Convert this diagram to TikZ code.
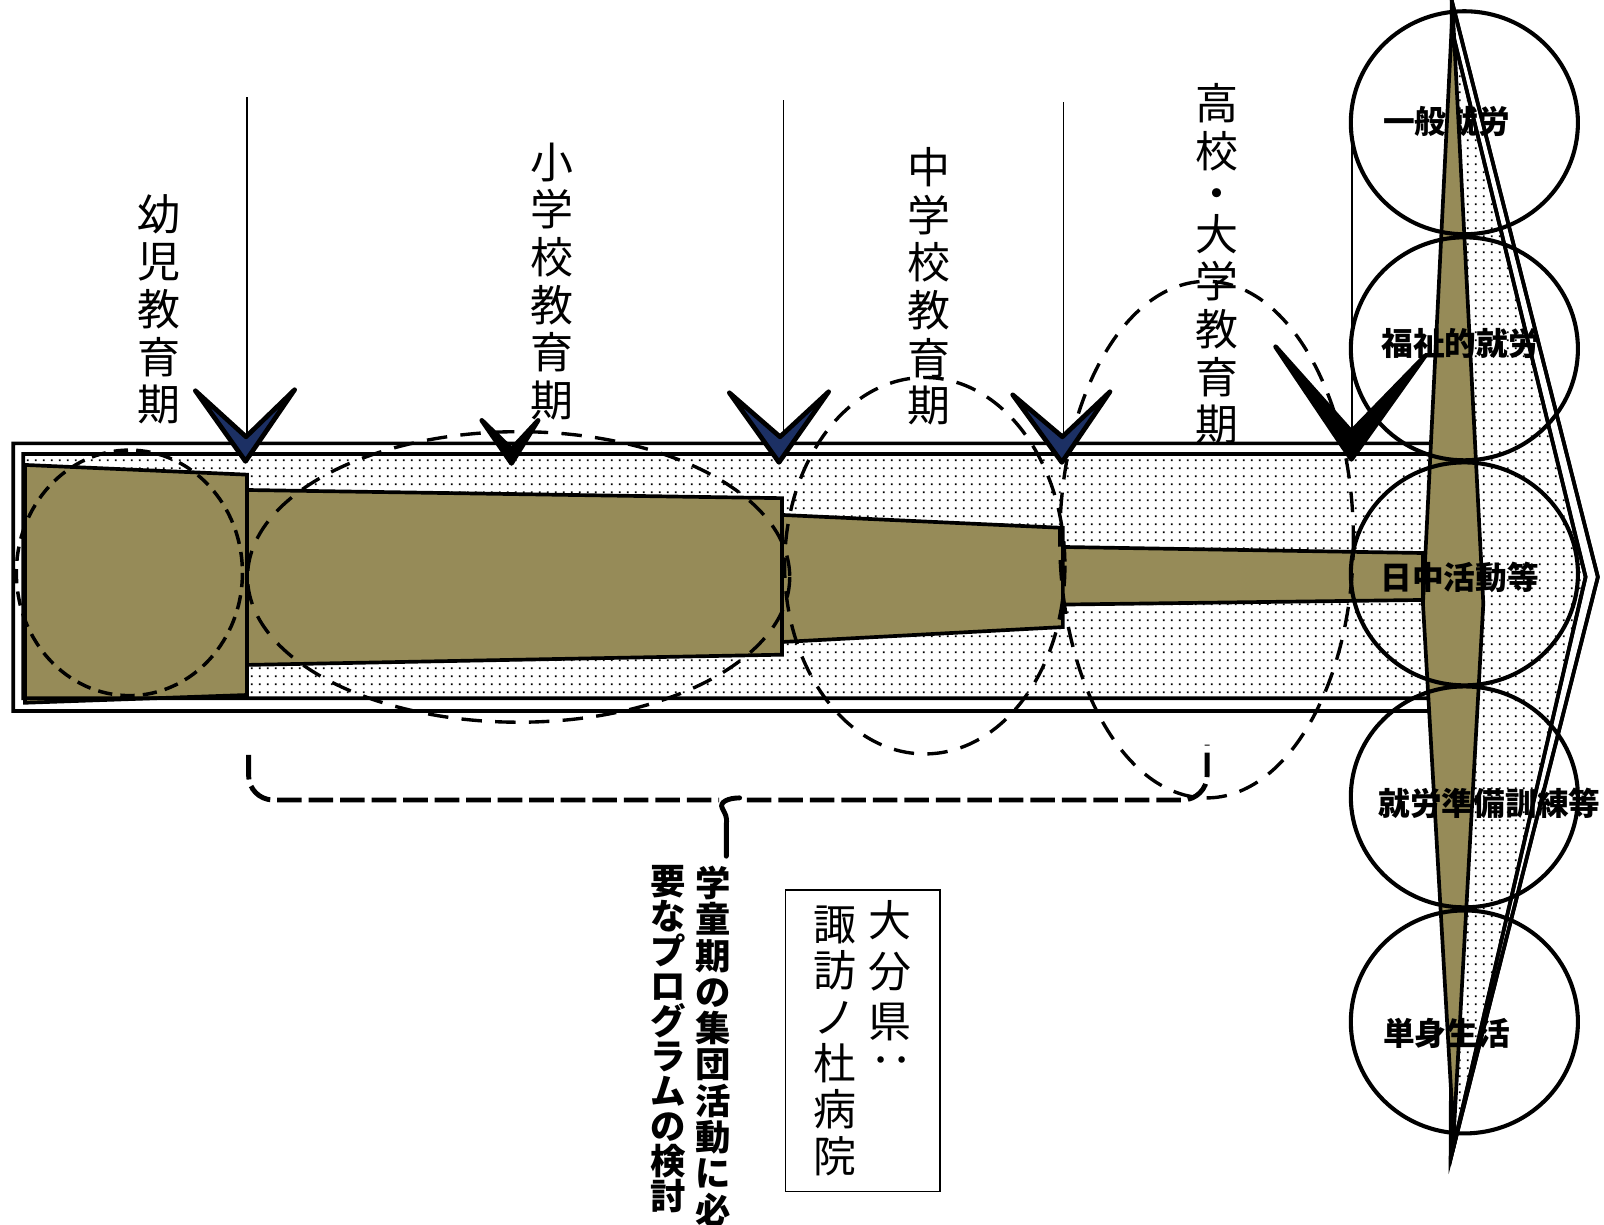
\documentclass[tikz,border=0pt]{standalone}
\usepackage{fontspec}
\newfontfamily\jp{Noto Sans CJK JP}
\usetikzlibrary{patterns}
\pgfdeclarepatternformonly{sdots}{\pgfqpoint{0pt}{0pt}}{\pgfqpoint{4pt}{4pt}}{\pgfqpoint{4pt}{4pt}}{%
  \pgfpathrectangle{\pgfqpoint{1.55pt}{1.55pt}}{\pgfqpoint{0.9pt}{0.9pt}}\pgfusepath{fill}}
\definecolor{segol}{RGB}{150,139,88}
\definecolor{navyv}{RGB}{28,48,100}
\begin{document}
\begin{tikzpicture}[x=0.5pt,y=-0.5pt,
  seg/.style={fill=segol, draw=black, line width=1.8pt, line join=miter},
  rim/.style={draw=black, line width=1.8pt, line join=miter},
  dashA/.style={draw=black, line width=1.7pt, dash pattern=on 7pt off 4pt},
  dashB/.style={draw=black, line width=1.65pt, dash pattern=on 10pt off 6.5pt},
  brk/.style={draw=black, line width=2.4pt, dash pattern=on 12pt off 3.4pt, rounded corners=12},
  vline/.style={draw=black, line width=0.75pt},
  chevn/.style={draw=black, fill=navyv, line width=2.3pt, line join=round, line cap=round},
  chevk/.style={draw=black, fill=black, line width=2.3pt, line join=round, line cap=round},
  ring/.style={draw=black, line width=2pt},
  vtext/.style={font=\jp\fontsize{21pt}{23.3pt}\selectfont, align=center, inner sep=0pt},
  btext/.style={font=\jp\fontsize{21pt}{24.5pt}\selectfont, align=center, inner sep=0pt},
  ctext/.style={font=\jp\bfseries\fontsize{15.5pt}{15.5pt}\selectfont, inner sep=0pt},
  gtext/.style={font=\jp\bfseries\fontsize{17.3pt}{17.75pt}\selectfont, align=center, inner sep=0pt},
]
\useasboundingbox (0,0) rectangle (1568,1197);

% dotted interior of the big arrow
\fill[pattern=sdots] (22.8,443.8) -- (1420,443.8) -- (1420,32) -- (1550,564) -- (1420,1125) -- (1420,682.5) -- (22.8,682.5) -- cycle;

% olive segments
\draw[seg] (24.4,454.5) -- (241.5,464) -- (241.5,679.4) -- (24.4,687) -- cycle;
\draw[seg] (241.5,479) -- (764.5,487) -- (764.5,640) -- (241.5,650) -- cycle;
\draw[seg] (764.5,503.4) -- (1039,516) -- (1039,613) -- (764.5,627.6) -- cycle;
\draw[seg] (1039,534.7) -- (1391,540.6) -- (1391,586.5) -- (1039,591) -- cycle;

% label hidden partly by the spindle
\node[ctext] (c1) at (1414,119) {一般就労};

% arrow outlines (double)
\draw[rim] (22.8,443.8) -- (1420,443.8) -- (1420,32) -- (1550,564) -- (1420,1125) -- (1420,682.5) -- (22.8,682.5) -- cycle;
\draw[rim] (13,433.4) -- (1420,433.4) -- (1419,0) -- (1562,564) -- (1418,1133) -- (1420,695) -- (13,695) -- cycle;

% spindle
\draw[seg] (1420,8) -- (1450,590) -- (1421,1110) -- (1391,590) -- cycle;

% circles
\draw[ring] (1431.5,120) ellipse [x radius=111, y radius=109];
\draw[ring] (1431.5,341) ellipse [x radius=111, y radius=109];
\draw[ring] (1431.5,561) ellipse [x radius=111, y radius=109];
\draw[ring] (1431.5,779) ellipse [x radius=111, y radius=108];
\draw[ring] (1431.5,999) ellipse [x radius=111, y radius=109];

% labels on top of the spindle
\node[ctext] (c2) at (1428,336) {福祉的就労};
\node[ctext] (c3) at (1427,564) {日中活動等};
\node[ctext] (c4) at (1456,785) {就労準備訓練等};
\node[ctext] (c5) at (1414,1010) {単身生活};

% right edges of the arrow head over the labels
\draw[rim] (1420,32) -- (1550,564) -- (1420,1125);
\draw[rim] (1419,0) -- (1562,564) -- (1418,1133);

% dashed ellipses
\draw[dashA] (126.5,560) ellipse [x radius=110.5, y radius=120];
\draw[dashB] (507,564) ellipse [x radius=265, y radius=142];
\draw[dashB] (904,553) ellipse [x radius=137, y radius=184];
\draw[dashB] (1179.5,527.5) ellipse [x radius=143.5, y radius=252.5];

% thin vertical lines
\coordinate (l1t) at (241.7,95);  \coordinate (l1b) at (241.7,440);
\coordinate (l2t) at (766,98);    \coordinate (l2b) at (766,440);
\coordinate (l3t) at (1039.4,100);\coordinate (l3b) at (1039.4,440);
\coordinate (l4t) at (1321.5,100);\coordinate (l4b) at (1321.5,440);
\draw[vline] (l1t) -- (l1b);
\draw[vline] (l2t) -- (l2b);
\draw[vline] (l3t) -- (l3b);
\draw[vline] (l4t) -- (l4b);

% chevrons
\draw[chevn] (191,382) -- (240,451) -- (288,381) -- (240.5,427) -- cycle;
\draw[chevk] (471,411) -- (500,453) -- (526,411) -- (500,439) -- cycle;
\draw[chevn] (713,384) -- (761.5,452) -- (810,383) -- (762.5,427) -- cycle;
\draw[chevn] (990,386) -- (1038,452) -- (1085,383) -- (1038.5,427) -- cycle;
\draw[chevk] (1247,339) -- (1321,449) -- (1393,348) -- (1321,422) -- cycle;

% period labels
\node[vtext] (p1) at (155,302.5) {幼\\児\\教\\育\\期};
\node[vtext] (p2) at (540,275) {小\\学\\校\\教\\育\\期};
\node[vtext] (p3) at (908,280) {中\\学\\校\\教\\育\\期};
\node[vtext] (p4) at (1190,258) {高\\校\\[-2.6pt]・\\[-3.4pt]大\\学\\教\\育\\期};

% bracket
\draw[brk] (243,738) -- (243,782) -- (703,782);
\draw[brk] (730,782) -- (1180,782) -- (1180,728);
\draw[line width=2.4pt, line cap=round] (723,780) .. controls (712,780) and (703,784) .. (706,790) .. controls (709,796) and (711,798) .. (710,806) -- (710,837);

% bracket label
\node[gtext] (g1) at (697,1022.5) {学\\童\\期\\の\\集\\団\\活\\動\\に\\必};
\node[gtext, font=\jp\bfseries\fontsize{17.3pt}{17.1pt}\selectfont] (g2) at (653,1016) {要\\な\\プ\\ロ\\グ\\ラ\\ム\\の\\検\\討};

% box
\draw[line width=0.7pt] (768,870) rectangle (919,1165);
\node[btext] (b1) at (870,949) {大\\分\\県};
\node[btext, rotate=-90] (b1c) at (870,1036) {：};
\node[btext, font=\jp\fontsize{21pt}{22.65pt}\selectfont] (b2) at (816,1017.5) {諏\\訪\\ノ\\杜\\病\\院};
\end{tikzpicture}
\end{document}
